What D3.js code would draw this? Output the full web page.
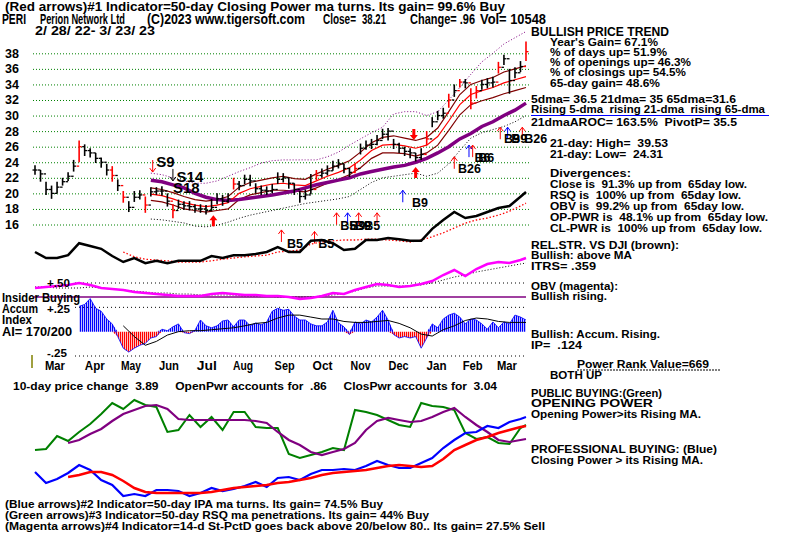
<!DOCTYPE html>
<html>
<head>
<meta charset="utf-8">
<script src="https://cdn.jsdelivr.net/npm/d3@7"></script>
<style>
  body { margin: 0; background: #fff; }
  text { white-space: pre; }
</style>
</head>
<body>
<div id="chart"></div>
<script>
// ---- data (trading-day index 0 = 2/28/22, 267 = 3/23/23) ----
const priceDays = d3.range(0, 268, 3);
const priceClose = [23,22.5,20.5,20,20.8,21.5,22.2,23.5,26,25.5, 25.2,24.5,24,23,22.3,21,19.5,18.2,19.5,19.8,
  18.5,20.2,20.3,20.3,19,17.8,18.6,18.4,18.3,18, 18,17.8,18.2,19.3,19,19.3,21.2,21,21.8,21.6,
  20.6,20.4,20.3,20.5,21.8,22,21.3,20.5,19.6,19.8, 20.5,22.3,22.6,22.9,23.5,23.8,23.2,22.7,23.2,25.8,
  26.2,26.3,26.8,27.6,28,26.3,25.8,25.4,25.2,24.6, 25,27,29.2,30,30.3,32,33.2,34.3,34.2,31.6,
  33.2,34,34.2,34.3,36.2,37.3,34.5,35.5,36.3,38.21];
const priceHigh = [23.6,23,21.5,21,21.5,22,22.7,24.3,26.8,26.3, 25.8,25.2,24.6,23.8,23.5,21.8,20.3,19,20.3,20.4,
  19.6,20.8,20.8,20.9,20,18.6,19.2,19,19,18.6, 18.6,18.5,19.3,20,19.8,20,22,21.6,22.4,22.4,
  21.3,21,20.9,21.2,22.7,22.6,22,21.3,20.3,20.5, 22.5,23,23.2,23.6,24.2,24.4,23.8,23.3,23.8,26.4,
  26.8,27,27.5,28.3,28.4,27,26.5,26,25.8,25.2, 25.8,28,29.8,30.6,31,32.8,34,34.7,34.7,33.5,
  33.8,34.6,34.8,35,36.9,37.8,36,36.2,37,39.53];
const priceLow = [22.4,21.5,19.8,19.3,20,21,21.6,22.8,24,24.8, 24.6,23.9,23.3,22.3,21.5,20.3,18.8,17.6,18.9,19.2,
  17.5,19.6,19.8,19.7,18.3,16.8,18,17.9,17.8,17.5, 17.5,17.3,17.7,18.6,18.4,18.8,20.5,20.4,21.2,20.9,
  20,19.8,19.8,20,21.2,21.4,20.6,19.8,18.8,19.2, 19.9,21.7,22,22.3,22.9,23.2,22.6,22.1,22.6,25,
  25.6,25.7,26.2,27,26.8,25.7,25.2,24.8,24.5,24.1, 24.3,26.2,28.5,29.4,29.6,31,32.4,33.6,33.5,30.8,
  32.2,33.3,33.5,33.6,35.4,36.5,32.8,34.8,35.6,37];
const redBarDays = [24, 42, 48, 60, 75, 108, 153, 174, 213, 225, 231, 237, 240, 252, 267];

const maDays = d3.range(63, 268, 6);
const ma65 = [21.7,21.5,21.1,20.7,20.0,19.5,19.2,19.1,19.2,19.4, 19.6,19.8,20.05,20.3,20.7,21.1,21.4,21.7,22.0,22.5,
  22.8,23.1,23.4,23.6,24.0,24.5,25.2,26.0,27.0,27.7, 28.6,29.2,30.0,30.7,31.6];
const ma21 = [19.9,19.7,19.3,18.8,18.5,18.3,18.5,18.8,20.0,20.6, 20.9,21.2,21.3,21.1,21.0,21.6,22.2,22.7,23.3,24.3,
  25.5,26.2,26.3,26.1,25.8,26.2,27.3,29.3,31.4,32.7, 33.2,33.6,34.2,34.6,35.0];
const bandUp = [20.7,20.5,20.1,19.6,19.2,19.0,19.2,19.6,20.8,21.4, 21.7,22.0,22.2,21.9,21.8,22.5,23.1,23.6,24.2,25.3,
  26.5,27.2,27.4,27.1,26.8,27.2,28.4,30.5,32.7,34.0, 34.5,34.9,35.6,36.0,36.4];
const bandLo = [19.1,18.9,18.5,18.0,17.8,17.6,17.8,18.0,19.2,19.8, 20.1,20.4,20.4,20.3,20.2,20.7,21.3,21.8,22.4,23.3,
  24.5,25.2,25.2,25.1,24.8,25.2,26.2,28.1,30.1,31.4, 31.9,32.3,32.8,33.2,33.6];
const envUp = [22.6,22.4,22.0,21.6,21.3,21.3,21.6,22.2,22.8,23.3, 23.9,24.2,24.3,24.3,24.3,24.3,24.7,25.3,26.2,27.0,
  27.8,28.5,30.2,30.5,30.5,30.0,30.5,32.0,33.6,35.3, 36.9,38.0,39.2,40.0,40.8];
const envLo = [16.7,16.6,16.4,16.2,15.8,15.7,15.9,16.3,16.8,17.2, 17.5,17.8,18.1,18.4,18.7,18.9,19.1,19.3,19.6,20.5,
  21.4,22.0,22.2,22.4,22.6,22.2,22.6,23.8,25.5,27.1, 27.8,28.2,28.6,29.2,30.0];

const indDays = d3.range(0, 265, 6).concat([267]);
const relStr = [2.5,1.75,1.75,2.1,3.6,3.25,2.9,2.0,1.25,1.75, 1.1,1.4,1.1,1.4,1.4,1.4,2.0,1.75,2.1,2.1,
  2.25,2.5,3.1,2.5,2.5,3.9,4.0,3.6,2.75,2.9, 4.0,4.0,4.25,4.1,3.9,3.9,5.4,6.5,7.5,6.75, 7.0,7.5,8.0,8.25,9.4,10.0];
const relStrMa = [2.5,1.9,1.6,1.5,1.4,1.25,1.25,1.25,1.4,1.6, 1.75,1.9,2.0,2.1,2.5,2.6,2.75,3.5,3.75,3.9,
  4.0,4.0,4.1,4.1,4.0,3.9,3.75,4.0,4.4,4.9, 5.5,6.1,6.5,6.75,7.1,7.6,8.25,8.6];
const obv = [3.0,3.25,3.5,3.75,4.25,3.75,3.0,2.75,2.5,2.0, 1.75,1.5,1.25,1.0,1.0,1.0,1.5,1.75,1.5,1.25,
  1.25,1.0,1.0,0.75,0.25,0.5,1.0,1.75,1.5,2.5, 3.25,4.0,3.75,3.25,3.5,4.0,4.75,6.25,7.5,6.0, 7.75,9.0,9.5,9.25,10.0,10.5];
const obvMa = [3.25,3.25,3.0,3.0,3.0,3.25,3.0,2.75,2.5,2.25, 2.0,1.75,1.75,1.5,1.5,1.25,1.25,1.25,1.25,1.0,
  1.0,1.0,0.75,0.75,0.75,0.75,1.0,1.25,1.5,2.25, 3.0,3.5,3.5,3.5,3.5,3.75,4.25,5.0,5.75,6.25, 7.0,7.5,8.0,8.5,9.0,9.25];

const accumDays = d3.range(24, 268, 3);
const accum = [0.26,0.28,0.34,0.24,0.21,0.13,0.08,-0.05,-0.17,-0.21, -0.17,-0.14,-0.12,-0.065,-0.05,0.025,0.01,0.05,0.08,-0.01,
  -0.02,0.015,0.12,0.06,0.04,0.06,0.11,0.12,0.05,0.12, 0.12,0.06,0.09,0.07,0.10,0.21,0.24,0.22,0.23,0.16,
  0.12,0.12,0.08,0.06,0.06,0.10,0.22,0.09,0.05,-0.03, 0.10,0.08,0.12,0.10,0.15,0.22,0.12,-0.03,-0.065,-0.05,
  -0.065,-0.05,-0.17,-0.065,0.08,0.04,0.13,0.17,0.19,0.15, 0.08,0.13,0.12,0.08,0.025,0.10,0.04,0.10,0.08,0.17, 0.15,0.12];
const accumMa = [0.06,-0.05,-0.14,-0.10,-0.035,0.0,0.01,0.01,0.02,0.03, 0.04,0.06,0.085,0.095,0.14,0.17,0.17,0.15,0.13,0.13,
  0.105,0.095,0.095,0.105,0.115,0.085,0.04,-0.025,-0.045,0.02, 0.06,0.115,0.14,0.13,0.105,0.095,0.095,0.095];

const openPwr = [55,56,69,64,73,81,91,102,96,105, 100,98,73,75,90,78,88,75,93,93,
  78,77,77,51,47,50,53,57,55,95, 93,90,85,80,78,102,99,98,95,72, 66,68,62,61,77,80];
const openPwrMa = [62,65,71,76,84,91,95,99,100,96, 86,85,85,85,85,85,85,84,82,73,
  65,60,53,50,53,56,62,75,84,87, 85,83,84,88,93,97,88,80,73,65, 63,65,66];
const closePwr = [33,22,26,32,40,35,25,20,9,11, 9,15,15,14,9,12,17,14,16,19,
  23,18,27,28,25,31,35,35,36,35, 39,44,40,37,37,42,47,57,65,72, 73,79,77,83,86,88];
const closePwrMa = [28,30,33,33,30,24,17,13,12,12, 12,12,12,13,15,17,18,19,20,22,
  23,25,27,30,32,33,34,35,37,39, 40,39,38,39,46,55,60,65,68,72, 75,78,79];

const priceTicks = [16,18,20,22,24,26,28,30,32,34,36,38];
const monthNames = ['Mar','Apr','May','Jun','Jul','Aug','Sep','Oct','Nov','Dec','Jan','Feb','Mar'];
const monthDays = [1,23,43,64,85,105,128,149,170,191,212,232,251];

// signals
const thinArrowDay = [64,75,134,152,164,170,176,186,200,228,236,238,253,257,265];
const thinArrowTip = [22.74,21.6,15.3,15.1,17.5,17.5,17.5,17.5,20.4,24.7,26.2,26.2,28.5,28.5,28.5];
const thinArrowDir = ['down','down','up','up','up','up','up','up','up','up','up','up','up','up','up'];
const thinArrowColor = ['red','black','red','red','red','blue','red','red','blue','red','blue','red','red','blue','red'];
const bigArrowDay = [97,206,207];
const bigArrowTip = [17.2,26.85,23.4];
const bigArrowDir = ['up','down','up'];
const sigLabel = ['S9','S14','S18','B5','B5','B5','B9','B9','B5','B9','B26','B6','B6','B9','B9','B26'];
const sigLabelDay = [66,77,75,137,154,166,171,174,179,205,230,239,241,255,259,266];
const sigLabelPrice = [23.4,21.5,20.1,13.0,13.0,15.3,15.3,15.3,15.3,18.2,22.6,24.0,24.0,26.5,26.5,26.5];

// ---- chart ----
const W = 800, H = 538;
const FONT = '"Liberation Sans", Arial, sans-serif';
const svg = d3.select('#chart').append('svg')
  .attr('width', W).attr('height', H)
  .style('font-family', FONT)
  .style('font-weight', 'bold');

const x = d3.scaleLinear().domain([0, 267]).range([35, 526]);
const xMonth = d3.scaleLinear().domain([1, 251]).range([45, 497]);
const yP = d3.scaleLinear().domain([16, 38]).range([224.5, 53.3]);
const yRS = d3.scaleLinear().domain([0, 10]).range([272, 192]);
const yOBV = d3.scaleLinear().domain([0, 10]).range([300, 260]);
const yAI = d3.scaleLinear().domain([-0.25, 0.5]).range([356, 283]);
const yPow = d3.scaleLinear().domain([0, 110]).range([505, 395]);

function txt(xp, yp, s, size, width, fill) {
  const t = svg.append('text').attr('x', xp).attr('y', yp)
    .attr('font-size', size).attr('fill', fill || '#000').text(s);
  if (width) t.attr('textLength', width).attr('lengthAdjust', 'spacingAndGlyphs');
  return t;
}
function lineOn(days, vals, ys) {
  return d3.line().x((d, i) => x(days[i])).y(d => ys(d))(vals);
}

// price grid + labels
const yAxis = d3.axisLeft(yP).tickValues(priceTicks).tickSize(-497).tickPadding(14);
const ga = svg.append('g').attr('transform', 'translate(33,0)').call(yAxis);
ga.select('.domain').remove();
ga.selectAll('line').attr('stroke', '#008000').attr('stroke-dasharray', '1,2');
ga.selectAll('text').attr('font-size', 12.5).attr('font-family', FONT)
  .attr('font-weight', 'bold').attr('fill', '#000');

// envelopes and moving averages
svg.append('path').attr('d', lineOn(maDays, envUp, yP)).attr('fill', 'none')
  .attr('stroke', '#800080').attr('stroke-dasharray', '1,2');
svg.append('path').attr('d', lineOn(maDays, envLo, yP)).attr('fill', 'none')
  .attr('stroke', '#000').attr('stroke-dasharray', '1,2');
[bandUp, bandLo].forEach(b => svg.append('path').attr('d', lineOn(maDays, b, yP))
  .attr('fill', 'none').attr('stroke', '#800000').attr('stroke-width', 1.2));
svg.append('path').attr('d', lineOn(maDays, ma21, yP)).attr('fill', 'none')
  .attr('stroke', '#ff0000').attr('stroke-width', 1.2);
svg.append('path').attr('d', lineOn(maDays, ma65, yP)).attr('fill', 'none')
  .attr('stroke', '#800080').attr('stroke-width', 3.5);

// price bars
const bars = svg.append('g');
priceDays.forEach((d, i) => {
  const c = redBarDays.includes(d) ? '#ff0000' : '#000';
  const prev = i ? priceClose[i - 1] : priceClose[i];
  bars.append('line').attr('x1', x(d)).attr('x2', x(d))
    .attr('y1', yP(priceLow[i])).attr('y2', yP(priceHigh[i]))
    .attr('stroke', c).attr('stroke-width', 1.6);
  bars.append('line').attr('x1', x(d)).attr('x2', x(d) + 2.5)
    .attr('y1', yP(priceClose[i])).attr('y2', yP(priceClose[i]))
    .attr('stroke', c).attr('stroke-width', 1.3);
  bars.append('line').attr('x1', x(d) - 2.5).attr('x2', x(d))
    .attr('y1', yP(prev)).attr('y2', yP(prev))
    .attr('stroke', c).attr('stroke-width', 1.3);
});

// thin arrows
thinArrowDay.forEach((d, i) => {
  const ax = x(d), ay = yP(thinArrowTip[i]);
  const s = thinArrowDir[i] === 'up' ? 1 : -1;
  svg.append('path')
    .attr('d', `M${ax},${ay} L${ax},${ay + s * 12} M${ax - 3},${ay + s * 4} L${ax},${ay} L${ax + 3},${ay + s * 4}`)
    .attr('fill', 'none').attr('stroke', thinArrowColor[i]).attr('stroke-width', 1);
});
// thick arrows
bigArrowDay.forEach((d, i) => {
  const ax = x(d), ay = yP(bigArrowTip[i]);
  const s = bigArrowDir[i] === 'up' ? 1 : -1;
  svg.append('path')
    .attr('d', `M${ax},${ay} L${ax + 4},${ay + s * 5} L${ax + 1.5},${ay + s * 5} L${ax + 1.5},${ay + s * 11}
      L${ax - 1.5},${ay + s * 11} L${ax - 1.5},${ay + s * 5} L${ax - 4},${ay + s * 5} Z`)
    .attr('fill', '#ff0000');
});
// signal labels
sigLabel.forEach((s, i) => {
  txt(x(sigLabelDay[i]), yP(sigLabelPrice[i]), s, s[0] === 'S' ? 15 : 12.5);
});

// relative strength
svg.append('path').attr('d', lineOn(indDays.slice(8), relStrMa, yRS)).attr('fill', 'none')
  .attr('stroke', '#ff0000').attr('stroke-width', 1.3).attr('stroke-dasharray', '1.5,2');
svg.append('path').attr('d', lineOn(indDays, relStr, yRS)).attr('fill', 'none')
  .attr('stroke', '#000').attr('stroke-width', 2.5);

// OBV
svg.append('line').attr('x1', 75).attr('x2', 526).attr('y1', yAI(0.5)).attr('y2', yAI(0.5))
  .attr('stroke', '#000').attr('stroke-dasharray', '1,3');
svg.append('line').attr('x1', 33).attr('x2', 526).attr('y1', yAI(0.355)).attr('y2', yAI(0.355))
  .attr('stroke', '#800080').attr('stroke-width', 1.5);
svg.append('path').attr('d', lineOn(indDays, obvMa, yOBV)).attr('fill', 'none')
  .attr('stroke', '#000').attr('stroke-dasharray', '1,2');
svg.append('path').attr('d', lineOn(indDays, obv, yOBV)).attr('fill', 'none')
  .attr('stroke', '#ff00ff').attr('stroke-width', 2.5);

// accumulation index
const defs = svg.append('defs');
[['hatchBlue', '#0000ff'], ['hatchRed', '#ff0000']].forEach(([id, c]) => {
  defs.append('pattern').attr('id', id).attr('patternUnits', 'userSpaceOnUse')
    .attr('width', 2).attr('height', 4)
    .append('rect').attr('width', 1.25).attr('height', 4).attr('fill', c);
});
[0.25, -0.25].forEach(v => svg.append('line').attr('x1', 75).attr('x2', 526)
  .attr('y1', yAI(v)).attr('y2', yAI(v)).attr('stroke', '#000').attr('stroke-dasharray', '1,3'));
const aiPos = d3.area().x((d, i) => x(accumDays[i])).y0(yAI(0)).y1(d => yAI(Math.max(0, d)));
const aiNeg = d3.area().x((d, i) => x(accumDays[i])).y0(yAI(0)).y1(d => yAI(Math.min(0, d)));
svg.append('path').attr('d', aiPos(accum)).attr('fill', 'url(#hatchBlue)');
svg.append('path').attr('d', aiNeg(accum)).attr('fill', 'url(#hatchRed)');
svg.append('path').attr('d', d3.line().x((d, i) => x(accumDays[i])).y(d => yAI(d))(accum))
  .attr('fill', 'none').attr('stroke', '#0000ff').attr('stroke-width', 0.8);
svg.append('path').attr('d', lineOn(indDays.slice(8), accumMa, yAI)).attr('fill', 'none')
  .attr('stroke', '#000').attr('stroke-width', 1);

// power lines
svg.append('path').attr('d', lineOn(indDays, openPwr, yPow)).attr('fill', 'none')
  .attr('stroke', '#008000').attr('stroke-width', 2);
svg.append('path').attr('d', lineOn(indDays.slice(3), openPwrMa, yPow)).attr('fill', 'none')
  .attr('stroke', '#800080').attr('stroke-width', 2.2);
svg.append('path').attr('d', lineOn(indDays, closePwr, yPow)).attr('fill', 'none')
  .attr('stroke', '#0000ff').attr('stroke-width', 2.2);
svg.append('path').attr('d', lineOn(indDays.slice(3), closePwrMa, yPow)).attr('fill', 'none')
  .attr('stroke', '#ff0000').attr('stroke-width', 2.5);

// month labels
svg.append('line').attr('x1', 32).attr('x2', 32).attr('y1', 355).attr('y2', 368)
  .attr('stroke', '#808000').attr('stroke-width', 1.5);
txt(47, 357, '-.25', 11.5, 20);
monthDays.forEach((d, i) => txt(xMonth(d), 370, monthNames[i], 12.5, 20));

// header texts
txt(5, 11, '(Red arrows)#1 Indicator=50-day Closing Power ma turns. Its gain= 99.6% Buy', 12, 500);
txt(2, 24, 'PERI', 14, 24);
txt(40, 24, 'Perion Network Ltd', 14, 85);
txt(147, 24, '(C)2023 www.tigersoft.com', 14, 158);
txt(323, 24, 'Close=', 14, 33);
txt(362, 24, '38.21', 14, 24);
txt(410, 24, 'Change= .96', 14, 65);
txt(480, 24, 'Vol= 10548', 14, 66);
txt(35, 35, '2/ 28/ 22- 3/ 23/ 23', 12.5, 120);

// left panel labels
txt(47, 287, '+.50', 11.5, 23);
txt(2, 302, 'Insider Buying', 12, 78);
txt(2, 313, 'Accum', 12, 36);
txt(47, 313, '+.25', 11.5, 23);
txt(2, 324, 'Index', 12, 30);
txt(2, 336, 'AI= 170/200', 12, 70);
txt(13, 390, '10-day price change  3.89     OpenPwr accounts for  .86     ClosPwr accounts for  3.04', 11.5, 484);

// bottom texts
txt(5, 508, '(Blue arrows)#2 Indicator=50-day IPA ma turns. Its gain= 74.5% Buy', 11.5, 378);
txt(5, 519, '(Green arrows)#3 Indicator=50-day RSQ ma penetrations. Its gain= 44% Buy', 11.5, 424);
txt(5, 530, '(Magenta arrows)#4 Indicator=14-d St-PctD goes back above 20/below 80.. Its gain= 27.5% Sell', 11.5, 540);

// right column
const rightLines = [
  [531, 36, 'BULLISH PRICE TREND', 12, 138],
  [550, 46, "Year's Gain= 67.1%", 11.5, 108],
  [550, 56, '% of days up= 51.9%', 11.5, 117],
  [550, 66, '% of openings up= 46.3%', 11.5, 141],
  [550, 76, '% of closings up= 54.5%', 11.5, 136],
  [550, 87, '65-day gain= 48.6%', 11.5, 110],
  [531, 103, '5dma= 36.5 21dma= 35 65dma=31.6', 11.5, 205],
  [531, 113, 'Rising 5-dma  rising 21-dma  rising 65-dma', 11.5, 234],
  [531, 126, '21dmaAROC= 163.5%  PivotP= 35.5', 11.5, 206],
  [550, 147, '21-day: High=  39.53', 11.5, 118],
  [550, 158, '21-day: Low=  24.31', 11.5, 113],
  [550, 177, 'Divergences:', 11.5, 81],
  [550, 188, 'Close is  91.3% up from  65day low.', 11.5, 197],
  [550, 199, 'RSQ is  100% up from  65day low.', 11.5, 191],
  [550, 210, 'OBV is  99.2% up from  65day low.', 11.5, 194],
  [550, 221, 'OP-PWR is  48.1% up from  65day low.', 11.5, 218],
  [550, 232, 'CL-PWR is  100% up from  65day low.', 11.5, 212],
  [531, 249, 'REL.STR. VS DJI (brown):', 11.5, 148],
  [531, 259, 'Bullish: above MA', 11.5, 101],
  [531, 270, 'ITRS= .359', 11.5, 65],
  [531, 290, 'OBV (magenta):', 11.5, 87],
  [531, 300, 'Bullish rising.', 11.5, 76],
  [531, 338, 'Bullish: Accum. Rising.', 11.5, 129],
  [531, 349, 'IP=  .124', 11.5, 51],
  [577, 368, 'Power Rank Value=669', 11.5, 132],
  [550, 379, 'BOTH UP', 11.5, 52],
  [531, 397, 'PUBLIC BUYING:(Green)', 11.5, 131],
  [531, 407, 'OPENING POWER', 11.5, 122],
  [531, 418, 'Opening Power>its Rising MA.', 11.5, 170],
  [531, 453, 'PROFESSIONAL BUYING: (Blue)', 11.5, 186],
  [531, 464, 'Closing Power > its Rising MA.', 11.5, 172]
];
rightLines.forEach(r => txt(r[0], r[1], r[2], r[3], r[4]));
svg.append('line').attr('x1', 531).attr('x2', 769).attr('y1', 115.5).attr('y2', 115.5)
  .attr('stroke', '#0000ff');
svg.append('line').attr('x1', 577).attr('x2', 720).attr('y1', 370).attr('y2', 370)
  .attr('stroke', '#000').attr('stroke-dasharray', '2,1');
</script>
</body>
</html>
